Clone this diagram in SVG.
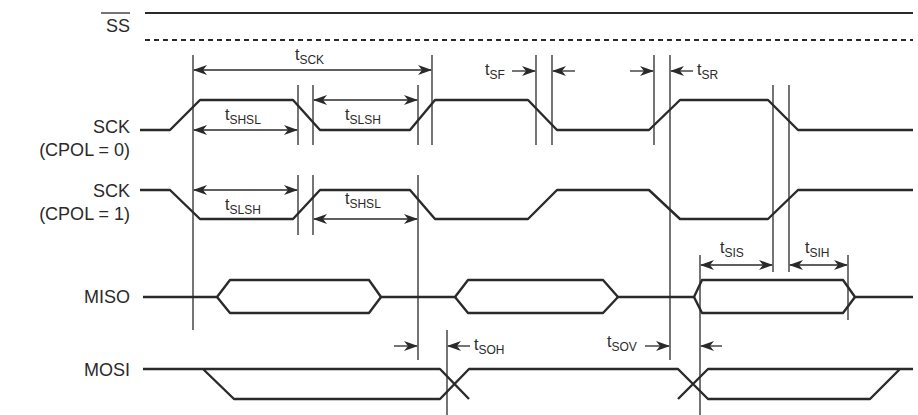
<svg xmlns="http://www.w3.org/2000/svg" width="918" height="415" viewBox="0 0 918 415">
<style>
.s{fill:none;stroke:#2a2a2a;stroke-width:2.4;stroke-linejoin:round}
.v{stroke:#2a2a2a;stroke-width:1.3}
.a{stroke:#2a2a2a;stroke-width:1.3;marker-end:url(#ah)}
.d{stroke:#2a2a2a;stroke-width:1.3;marker-start:url(#ah2);marker-end:url(#ah)}
text{font-family:"Liberation Sans",Arial,sans-serif;fill:#2a2a2a}
.l{font-size:18px;text-anchor:end}
.t{font-size:16px}
.t tspan{font-size:12px}
</style>
<defs>
<marker id="ah" markerWidth="14" markerHeight="10" refX="13" refY="5" orient="auto" markerUnits="userSpaceOnUse"><path d="M0,0 L14,5 L0,10 L4,5 Z" fill="#2a2a2a"/></marker>
<marker id="ah2" markerWidth="14" markerHeight="10" refX="1" refY="5" orient="auto" markerUnits="userSpaceOnUse"><path d="M14,0 L0,5 L14,10 L10,5 Z" fill="#2a2a2a"/></marker>
</defs>
<g id="labels">
<text class="l" x="130" y="32">SS</text><line x1="101" y1="13" x2="130" y2="13" class="v"/>
<text class="l" x="130" y="133">SCK</text><text class="l" x="130" y="156">(CPOL = 0)</text>
<text class="l" x="130" y="197">SCK</text><text class="l" x="130" y="220">(CPOL = 1)</text>
<text class="l" x="130" y="303">MISO</text>
<text class="l" x="130" y="376">MOSI</text>
</g>
<g id="signals">
<line x1="145" y1="13" x2="913" y2="13" class="s" style="stroke-width:2"/>
<line x1="145" y1="40" x2="913" y2="40" class="s" style="stroke-width:2;stroke-dasharray:5,4"/>
<path class="s" d="M140,130 H170 L200,100 H293 L320,130 H410 L435,100 H528 L557,130 H649 L680,100 H768 L798,130 H913"/>
<path class="s" d="M140,190 H170 L200,219 H293 L320,190 H410 L435,219 H528 L557,190 H649 L680,219 H768 L798,190 H913"/>
<path class="s" d="M143,297 H217 L230,280 H369 L381,297 H455 L468,280 H603 L618,297 H694 L702,280 H843 L855,297 H913"/>
<path class="s" d="M217,297 L230,313 H369 L381,297 M455,297 L468,313 H603 L618,297 M694,297 L702,313 H843 L855,297"/>
<path class="s" d="M143,369 H440 L469,399 M203,369 L234,399 H440 L469,369 H678 L708,399 H870 L900,369 M678,399 L708,369 H913"/>
</g>
<g id="connectors">
<line class="v" x1="193" y1="55" x2="193" y2="330"/>
<line class="v" x1="298" y1="85" x2="298" y2="145"/><line class="v" x1="298" y1="175" x2="298" y2="235"/>
<line class="v" x1="313" y1="85" x2="313" y2="145"/><line class="v" x1="313" y1="175" x2="313" y2="235"/>
<line class="v" x1="418" y1="85" x2="418" y2="145"/><line class="v" x1="418" y1="175" x2="418" y2="360"/>
<line class="v" x1="432" y1="55" x2="432" y2="145"/>
<line class="v" x1="536" y1="55" x2="536" y2="145"/><line class="v" x1="552" y1="55" x2="552" y2="145"/>
<line class="v" x1="654" y1="55" x2="654" y2="145"/><line class="v" x1="670" y1="55" x2="670" y2="360"/>
<line class="v" x1="773" y1="85" x2="773" y2="272"/><line class="v" x1="789" y1="85" x2="789" y2="272"/>
<line class="v" x1="848" y1="255" x2="848" y2="320"/>
<line class="v" x1="700" y1="255" x2="700" y2="415"/>
<line class="v" x1="447" y1="330" x2="447" y2="415"/>
<line class="d" x1="194" y1="70" x2="431" y2="70"/>
<line class="d" x1="194" y1="130" x2="297" y2="130"/>
<line class="d" x1="314" y1="100" x2="417" y2="100"/>
<line class="d" x1="194" y1="190" x2="297" y2="190"/>
<line class="d" x1="314" y1="219" x2="417" y2="219"/>
<line class="a" x1="512" y1="71" x2="535" y2="71"/><line class="a" x1="575" y1="71" x2="553" y2="71"/>
<line class="a" x1="630" y1="71" x2="653" y2="71"/><line class="a" x1="693" y1="71" x2="671" y2="71"/>
<line class="d" x1="701" y1="265" x2="772" y2="265"/>
<line class="d" x1="790" y1="265" x2="847" y2="265"/>
<line class="a" x1="394" y1="346" x2="417" y2="346"/><line class="a" x1="470" y1="346" x2="448" y2="346"/>
<line class="a" x1="645" y1="346" x2="669" y2="346"/><line class="a" x1="722" y1="346" x2="701" y2="346"/>
</g>
<g id="timing-labels">
<text class="t" x="295" y="60">t<tspan dy="4">SCK</tspan></text>
<text class="t" x="225" y="120">t<tspan dy="4">SHSL</tspan></text>
<text class="t" x="345" y="120">t<tspan dy="4">SLSH</tspan></text>
<text class="t" x="225" y="210">t<tspan dy="4">SLSH</tspan></text>
<text class="t" x="345" y="204">t<tspan dy="4">SHSL</tspan></text>
<text class="t" x="485" y="75">t<tspan dy="4">SF</tspan></text>
<text class="t" x="697" y="75">t<tspan dy="4">SR</tspan></text>
<text class="t" x="720" y="253">t<tspan dy="4">SIS</tspan></text>
<text class="t" x="805" y="253">t<tspan dy="4">SIH</tspan></text>
<text class="t" x="474" y="350">t<tspan dy="4">SOH</tspan></text>
<text class="t" x="607" y="347">t<tspan dy="4">SOV</tspan></text>
</g>
</svg>
